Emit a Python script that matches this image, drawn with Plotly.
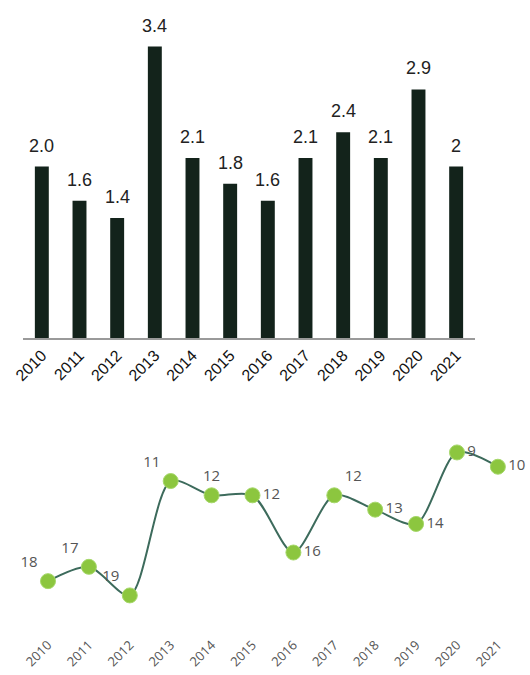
import plotly.graph_objects as go

years = [str(y) for y in range(2010, 2022)]
growth_labels = ["2.0", "1.6", "1.4", "3.4", "2.1", "1.8", "1.6", "2.1", "2.4", "2.1", "2.9", "2"]
growth_values = [float(s) for s in growth_labels]
ranks = [18, 17, 19, 11, 12, 12, 16, 12, 13, 14, 9, 10]
rank_label_pos = ["top left", "top left", "top left", "top left", "top center", "middle right",
                  "middle right", "top right", "middle right", "middle right", "middle right", "middle right"]

BAR_COLOR = "#13231b"
LINE_COLOR = "#3d6b5c"
DOT_COLOR = "#8cc63f"

fig = go.Figure()

fig.add_trace(go.Bar(
    x=years, y=growth_values, xaxis="x", yaxis="y",
    marker=dict(color=BAR_COLOR, line=dict(width=0)),
    width=0.37, hoverinfo="x+y",
))

# value labels above each bar (category index used as x position)
for i, (val, lab) in enumerate(zip(growth_values, growth_labels)):
    fig.add_annotation(
        x=i, y=val, xref="x", yref="y", text=lab, showarrow=False,
        yanchor="bottom", yshift=9,
        font=dict(family="Liberation Sans, Arial", size=18, color="#222222"),
    )

fig.add_trace(go.Scatter(
    x=years, y=ranks, xaxis="x2", yaxis="y2",
    mode="lines+markers+text",
    line=dict(color=LINE_COLOR, width=2, shape="spline", smoothing=0.8),
    marker=dict(size=15, color=DOT_COLOR, line=dict(color="#a6d86a", width=1)),
    text=[str(r) for r in ranks], textposition=rank_label_pos,
    textfont=dict(family="Open Sans", size=15, color="#555555"),
    cliponaxis=False,
))

fig.update_layout(
    width=530, height=675,
    margin=dict(l=0, r=0, t=0, b=0, autoexpand=False),
    paper_bgcolor="white", plot_bgcolor="white",
    showlegend=False,
    xaxis=dict(
        domain=[0.0434, 0.8962], anchor="y", type="category",
        range=[-0.5, len(years) - 0.5], automargin=False,
        tickangle=-45, ticks="", showgrid=False,
        showline=True, linecolor="#9a9a9a", linewidth=2,
        tickfont=dict(family="Liberation Sans, Arial", size=16, color="#111111"),
    ),
    yaxis=dict(domain=[0.4993, 0.9818], range=[0, 3.8], visible=False),
    xaxis2=dict(
        domain=[0.052, 0.978], anchor="y2", type="category",
        range=[-0.5, len(years) - 0.5], automargin=False,
        tickangle=-45, ticks="", showgrid=False, showline=False,
        tickfont=dict(family="Open Sans", size=13, color="#555555"),
    ),
    yaxis2=dict(domain=[0.0607, 0.3615], range=[21.7, 7.5], visible=False),
)

fig.write_html("out.html")
